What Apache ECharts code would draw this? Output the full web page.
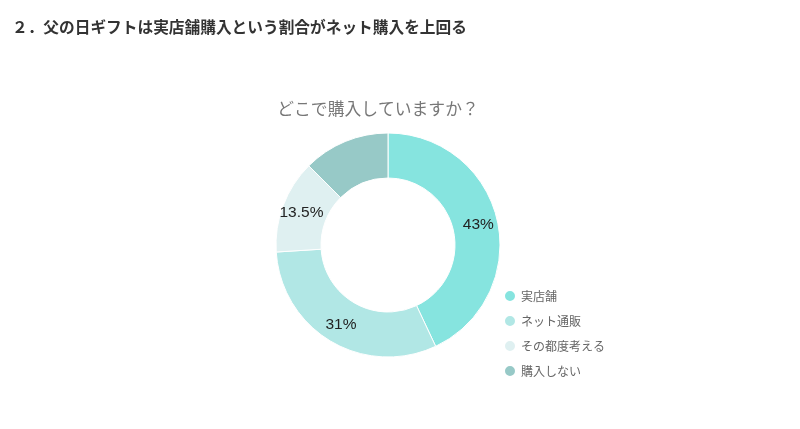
<!DOCTYPE html>
<html><head><meta charset="utf-8">
<script src="https://cdn.jsdelivr.net/npm/echarts@6/dist/echarts.min.js"></script>
<style>html,body{margin:0;padding:0;background:#fff}#c{width:800px;height:429px}</style>
</head><body><div id="c"></div>
<script>
var categories = ['実店舗', 'ネット通販', 'その都度考える', '購入しない'];
var values = [43, 31, 13.5, 12.5];
var labelsShown = ['43%', '31%', '13.5%', ''];
var colors = ['#86E4DF', '#B1E7E5', '#DFF0F1', '#97C9C7'];

var chart = echarts.init(document.getElementById('c'));
chart.setOption({
  backgroundColor: '#fff',
  animation: false,
  title: [{
    text: '２．父の日ギフトは実店舗購入という割合がネット購入を上回る',
    left: 7, top: 14,
    textStyle: {fontSize: 15.7, fontWeight: 'bold', color: '#333', fontFamily: 'Noto Sans CJK JP'}
  }, {
    text: 'どこで購入していますか？',
    left: 373, top: 95, textAlign: 'center',
    textStyle: {fontSize: 16.8, fontWeight: 'normal', color: '#777', fontFamily: 'Noto Sans CJK JP'}
  }],
  legend: {
    orient: 'vertical', left: 498, top: 284,
    icon: 'circle', itemWidth: 12, itemHeight: 12, itemGap: 11,
    textStyle: {fontSize: 12, color: '#666', fontFamily: 'Noto Sans CJK JP'},
    data: categories
  },
  series: [{
    type: 'pie',
    center: [388, 245], radius: [67, 112],
    startAngle: 90, clockwise: true,
    itemStyle: {borderColor: '#fff', borderWidth: 1},
    label: {
      position: 'inside', fontSize: 15.5, color: '#222', fontFamily: 'Liberation Sans',
      formatter: function (p) { return labelsShown[p.dataIndex]; }
    },
    labelLine: {show: false},
    emphasis: {disabled: true},
    data: categories.map(function (c, i) {
      return {name: c, value: values[i], itemStyle: {color: colors[i]}};
    })
  }]
});
</script></body></html>
